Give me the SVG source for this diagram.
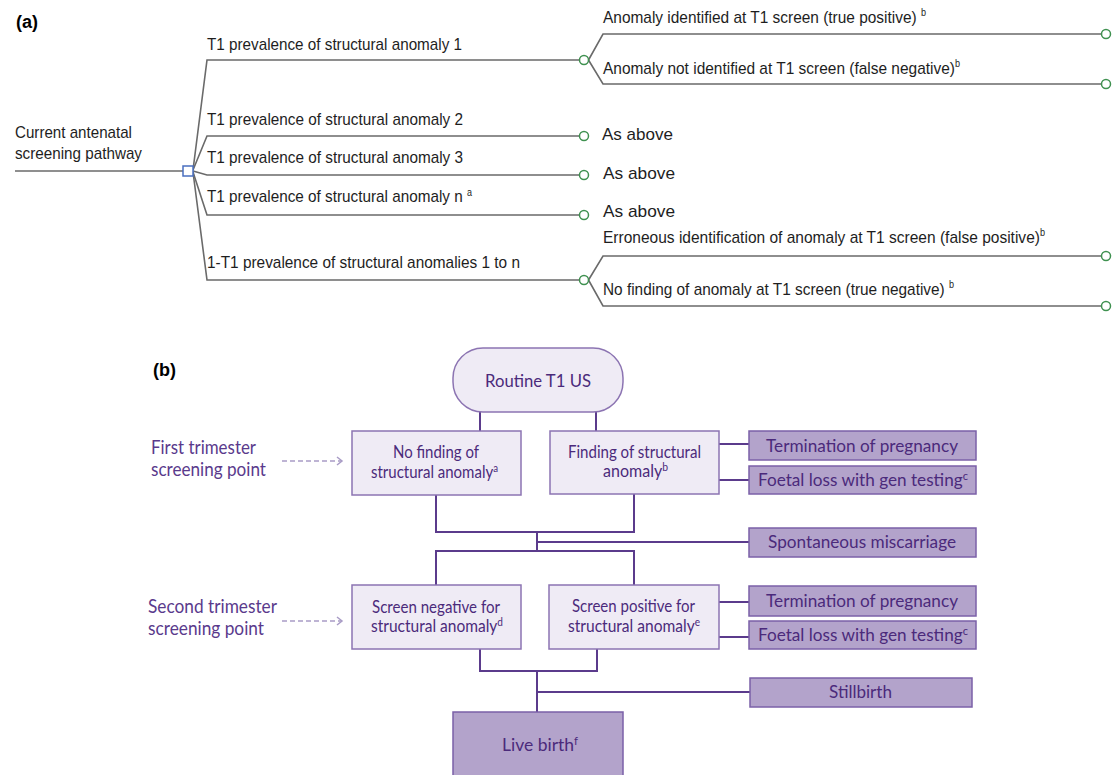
<svg xmlns="http://www.w3.org/2000/svg" width="1115" height="775" viewBox="0 0 1115 775">
<style>
.ta{font-family:"Liberation Sans",Arial,sans-serif;font-size:17px;fill:#1e1e1e}
.sup{font-size:10px}
.lab{font-family:"Liberation Sans",Arial,sans-serif;font-size:18px;font-weight:bold;fill:#000}
.tl{fill:none;stroke:#6a6a6a;stroke-width:1.6}
.chance{fill:#fff;stroke:#3f9150;stroke-width:1.5}
.dec{fill:#fff;stroke:#4a6fc0;stroke-width:1.5}
.tb{font-family:Lato,"Open Sans",sans-serif;font-size:17px;fill:#4b2a7b}
.tbs{font-size:11px}
.side{font-family:Lato,"Open Sans",sans-serif;font-size:18.5px;fill:#5a3a8c}
.lbox{fill:#efebf5;stroke:#8c74b2;stroke-width:1.5}
.dbox{fill:#b3a3cb;stroke:#7b60a8;stroke-width:1.5}
.conn{fill:none;stroke:#5b3b8c;stroke-width:2}
.dash{fill:none;stroke:#a99cc6;stroke-width:1.5;stroke-dasharray:5 3}
</style>
<defs>
<marker id="chev" markerWidth="8" markerHeight="10" refX="6" refY="5" orient="auto" markerUnits="userSpaceOnUse">
<path d="M1,1 L6,5 L1,9" fill="none" stroke="#a99cc6" stroke-width="1.5"/>
</marker>
</defs>
<rect width="1115" height="775" fill="#fff"/>

<!-- Part (a) -->
<text class="lab" x="16" y="28">(a)</text>
<g id="connectors-a">
<polyline class="tl" points="15,171 183,171"/>
<polyline class="tl" points="193,170 207,60 579.5,60"/>
<polyline class="tl" points="193,170 207,136 579.5,136"/>
<polyline class="tl" points="193,171 207,175 579.5,175"/>
<polyline class="tl" points="193,172 207,215 579.5,215"/>
<polyline class="tl" points="193,172 207,280 579.5,280"/>
<polyline class="tl" points="588.5,60 603,34 1101.5,34"/>
<polyline class="tl" points="588.5,60 603,84 1101.5,84"/>
<polyline class="tl" points="588.5,280 603,256 1101.5,256"/>
<polyline class="tl" points="588.5,280 603,306 1101.5,306"/>
</g>
<g id="root">
<text class="ta" x="15" y="138" textLength="117" lengthAdjust="spacingAndGlyphs">Current antenatal</text>
<text class="ta" x="15" y="159" textLength="127" lengthAdjust="spacingAndGlyphs">screening pathway</text>
<rect class="dec" x="183" y="166" width="10" height="10"/>
</g>
<g id="branch1">
<text class="ta" x="207" y="50" textLength="255" lengthAdjust="spacingAndGlyphs">T1 prevalence of structural anomaly 1</text>
<circle class="chance" cx="584" cy="60" r="4.5"/>
</g>
<g id="branch1-tp">
<text class="ta" x="603" y="23" textLength="323" lengthAdjust="spacingAndGlyphs">Anomaly identified at T1 screen (true positive) <tspan class="sup" dy="-7">b</tspan></text>
<circle class="chance" cx="1106" cy="34" r="4.5"/>
</g>
<g id="branch1-fn">
<text class="ta" x="603" y="74" textLength="357" lengthAdjust="spacingAndGlyphs">Anomaly not identified at T1 screen (false negative)<tspan class="sup" dy="-7">b</tspan></text>
<circle class="chance" cx="1106" cy="84" r="4.5"/>
</g>
<g id="branch2">
<text class="ta" x="207" y="125" textLength="256" lengthAdjust="spacingAndGlyphs">T1 prevalence of structural anomaly 2</text>
<circle class="chance" cx="584" cy="136" r="4.5"/>
<text class="ta" x="602" y="140" textLength="71" lengthAdjust="spacingAndGlyphs">As above</text>
</g>
<g id="branch3">
<text class="ta" x="207" y="163" textLength="256" lengthAdjust="spacingAndGlyphs">T1 prevalence of structural anomaly 3</text>
<circle class="chance" cx="584" cy="175" r="4.5"/>
<text class="ta" x="603" y="179" textLength="72" lengthAdjust="spacingAndGlyphs">As above</text>
</g>
<g id="branch4">
<text class="ta" x="207" y="202" textLength="265" lengthAdjust="spacingAndGlyphs">T1 prevalence of structural anomaly n <tspan class="sup" dy="-6">a</tspan></text>
<circle class="chance" cx="584" cy="215" r="4.5"/>
<text class="ta" x="603" y="217" textLength="72" lengthAdjust="spacingAndGlyphs">As above</text>
</g>
<g id="branch5">
<text class="ta" x="207" y="268" textLength="313" lengthAdjust="spacingAndGlyphs">1-T1 prevalence of structural anomalies 1 to n</text>
<circle class="chance" cx="584" cy="280" r="4.5"/>
</g>
<g id="branch5-fp">
<text class="ta" x="603" y="243" textLength="442" lengthAdjust="spacingAndGlyphs">Erroneous identification of anomaly at T1 screen (false positive)<tspan class="sup" dy="-7">b</tspan></text>
<circle class="chance" cx="1106" cy="256" r="4.5"/>
</g>
<g id="branch5-tn">
<text class="ta" x="603" y="295" textLength="351" lengthAdjust="spacingAndGlyphs">No finding of anomaly at T1 screen (true negative) <tspan class="sup" dy="-7">b</tspan></text>
<circle class="chance" cx="1106" cy="306" r="4.5"/>
</g>

<!-- Part (b) -->
<text class="lab" x="153" y="376">(b)</text>
<g id="connectors-b">
<polyline class="conn" points="480,412 480,431"/>
<polyline class="conn" points="596,412 596,431"/>
<polyline class="conn" points="719,444 749,444"/>
<polyline class="conn" points="719,480 749,480"/>
<polyline class="conn" points="436,495 436,532 634,532 634,494"/>
<polyline class="conn" points="537,532 537,551"/>
<polyline class="conn" points="537,542 749,542"/>
<polyline class="conn" points="436,585 436,551 634,551 634,585"/>
<polyline class="conn" points="719,602 749,602"/>
<polyline class="conn" points="719,637 749,637"/>
<polyline class="conn" points="480,649 480,671 597,671 597,649"/>
<polyline class="conn" points="537,671 537,712"/>
<polyline class="conn" points="537,692 750,692"/>
<line class="dash" x1="282" y1="461" x2="342" y2="461" marker-end="url(#chev)"/>
<line class="dash" x1="282" y1="621" x2="342" y2="621" marker-end="url(#chev)"/>
</g>
<g id="label-first">
<text class="side" x="151" y="454" textLength="105" lengthAdjust="spacingAndGlyphs">First trimester</text>
<text class="side" x="151" y="476" textLength="115" lengthAdjust="spacingAndGlyphs">screening point</text>
</g>
<g id="label-second">
<text class="side" x="148" y="613" textLength="129" lengthAdjust="spacingAndGlyphs">Second trimester</text>
<text class="side" x="148" y="635" textLength="116" lengthAdjust="spacingAndGlyphs">screening point</text>
</g>
<g id="routine">
<rect class="lbox" x="453" y="348" width="170" height="64" rx="30"/>
<text class="tb" x="485" y="387" font-size="18.5" textLength="106" lengthAdjust="spacingAndGlyphs">Routine T1 US</text>
</g>
<g id="no-finding">
<rect class="lbox" x="352" y="431" width="169" height="64"/>
<text class="tb" x="393" y="458" textLength="86" lengthAdjust="spacingAndGlyphs">No finding of</text>
<text class="tb" x="371" y="478" textLength="127" lengthAdjust="spacingAndGlyphs">structural anomaly<tspan class="tbs" dy="-6">a</tspan></text>
</g>
<g id="finding">
<rect class="lbox" x="550" y="431" width="169" height="63"/>
<text class="tb" x="568" y="458" textLength="133" lengthAdjust="spacingAndGlyphs">Finding of structural</text>
<text class="tb" x="603" y="477" textLength="65" lengthAdjust="spacingAndGlyphs">anomaly<tspan class="tbs" dy="-6">b</tspan></text>
</g>
<g id="termination1">
<rect class="dbox" x="749" y="431" width="227" height="29"/>
<text class="tb" x="766" y="452" textLength="192" lengthAdjust="spacingAndGlyphs">Termination of pregnancy</text>
</g>
<g id="foetal1">
<rect class="dbox" x="749" y="466" width="227" height="28"/>
<text class="tb" x="758" y="486" textLength="210" lengthAdjust="spacingAndGlyphs">Foetal loss with gen testing<tspan class="tbs" dy="-6">c</tspan></text>
</g>
<g id="miscarriage">
<rect class="dbox" x="749" y="528" width="227" height="29"/>
<text class="tb" x="768" y="548" textLength="188" lengthAdjust="spacingAndGlyphs">Spontaneous miscarriage</text>
</g>
<g id="screen-negative">
<rect class="lbox" x="352" y="585" width="169" height="64"/>
<text class="tb" x="372" y="613" textLength="128" lengthAdjust="spacingAndGlyphs">Screen negative for</text>
<text class="tb" x="371" y="632" textLength="132" lengthAdjust="spacingAndGlyphs">structural anomaly<tspan class="tbs" dy="-6">d</tspan></text>
</g>
<g id="screen-positive">
<rect class="lbox" x="549" y="585" width="170" height="64"/>
<text class="tb" x="572" y="612" textLength="123" lengthAdjust="spacingAndGlyphs">Screen positive for</text>
<text class="tb" x="568" y="632" textLength="132" lengthAdjust="spacingAndGlyphs">structural anomaly<tspan class="tbs" dy="-6">e</tspan></text>
</g>
<g id="termination2">
<rect class="dbox" x="749" y="586" width="227" height="30"/>
<text class="tb" x="766" y="607" textLength="192" lengthAdjust="spacingAndGlyphs">Termination of pregnancy</text>
</g>
<g id="foetal2">
<rect class="dbox" x="749" y="621" width="227" height="28"/>
<text class="tb" x="758" y="641" textLength="210" lengthAdjust="spacingAndGlyphs">Foetal loss with gen testing<tspan class="tbs" dy="-6">c</tspan></text>
</g>
<g id="stillbirth">
<rect class="dbox" x="750" y="678" width="222" height="29"/>
<text class="tb" x="829" y="698" textLength="63" lengthAdjust="spacingAndGlyphs">Stillbirth</text>
</g>
<g id="live-birth">
<rect class="dbox" x="453" y="712" width="170" height="70"/>
<text class="tb" x="502" y="751" textLength="76" lengthAdjust="spacingAndGlyphs">Live birth<tspan class="tbs" dy="-6">f</tspan></text>
</g>
</svg>
